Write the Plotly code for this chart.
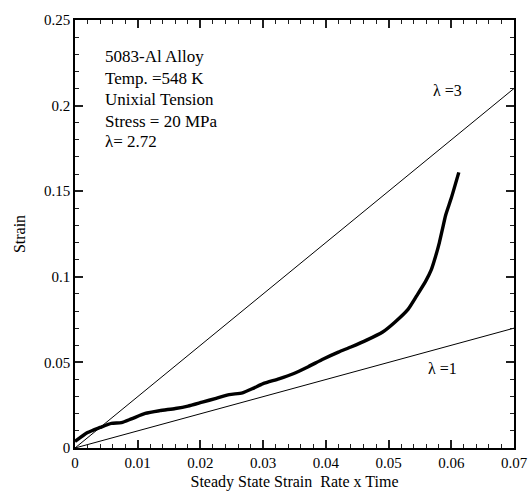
import plotly.graph_objects as go

# Measured creep curve
strain_rate_time = [0.0, 0.0020, 0.0040, 0.0058, 0.0074, 0.0090, 0.0112, 0.0135, 0.0160, 0.0180, 0.0203, 0.0225,
                    0.0246, 0.0267, 0.0285, 0.0300, 0.0325, 0.0348, 0.0372, 0.0396, 0.0420, 0.0440, 0.0465,
                    0.0490, 0.0510, 0.0531, 0.0545, 0.0559, 0.0568, 0.0575, 0.0581, 0.0586, 0.0591, 0.0600, 0.0612]
strain = [0.0038, 0.0090, 0.0120, 0.0144, 0.0148, 0.0170, 0.0202, 0.0218, 0.0231, 0.0245, 0.0268, 0.0290,
          0.0312, 0.0322, 0.0350, 0.0376, 0.0404, 0.0434, 0.0475, 0.0520, 0.0560, 0.0590, 0.0630,
          0.0676, 0.0735, 0.0810, 0.0890, 0.0973, 0.1040, 0.1120, 0.1200, 0.1280, 0.1360, 0.1460, 0.1610]

# Reference lines strain = lambda * (strain rate x time)
ref_x = [0.0, 0.07]
lambda_values = [3, 1]

x_tickvals = [0, 0.01, 0.02, 0.03, 0.04, 0.05, 0.06, 0.07]
x_ticktext = ["0", "0.01", "0.02", "0.03", "0.04", "0.05", "0.06", "0.07"]
y_tickvals = [0, 0.05, 0.1, 0.15, 0.2, 0.25]
y_ticktext = ["0", "0.05", "0.1", "0.15", "0.2", "0.25"]

info_lines = ["5083-Al Alloy", "Temp. =548 K", "Unixial Tension", "Stress = 20 MPa", "λ= 2.72"]
info_y = [0.2285, 0.2160, 0.2035, 0.1910, 0.1790]

serif = "Liberation Serif, Times New Roman, serif"

fig = go.Figure()
for lam in lambda_values:
    fig.add_trace(go.Scatter(x=ref_x, y=[lam * v for v in ref_x], mode="lines",
                             line=dict(color="black", width=1), showlegend=False))
fig.add_trace(go.Scatter(x=strain_rate_time, y=strain, mode="lines",
                         line=dict(color="black", width=3.4, shape="spline", smoothing=0.6),
                         showlegend=False))

for txt, yy in zip(info_lines, info_y):
    fig.add_annotation(x=0.0044, y=yy, text=txt, showarrow=False, xanchor="left", yanchor="middle",
                       font=dict(family=serif, size=17, color="black"))

fig.add_annotation(x=0.0594, y=0.209, text="λ =3", showarrow=False,
                   font=dict(family=serif, size=16, color="black"))
fig.add_annotation(x=0.0586, y=0.0463, text="λ =1", showarrow=False,
                   font=dict(family=serif, size=16, color="black"))

tickfont = dict(family=serif, size=15, color="black")

fig.update_xaxes(range=[0, 0.07], tickvals=x_tickvals, ticktext=x_ticktext,
                 showline=True, linecolor="black", linewidth=1.5, mirror="ticks",
                 ticks="inside", ticklen=8, tickcolor="#202020", tickwidth=1.5, showgrid=False, zeroline=False,
                 tickfont=tickfont, ticklabeloverflow="allow", automargin=False,
                 minor=dict(dtick=0.002, ticks="inside", ticklen=4, tickcolor="#202020", tickwidth=1),
                 title=dict(text="Steady State Strain  Rate x Time", font=dict(family=serif, size=16, color="black"),
                            standoff=6))
fig.update_yaxes(range=[0, 0.25], tickvals=y_tickvals, ticktext=y_ticktext,
                 showline=True, linecolor="black", linewidth=1.5, mirror="ticks",
                 ticks="inside", ticklen=8, tickcolor="#202020", tickwidth=1.5, showgrid=False, zeroline=False,
                 tickfont=tickfont,
                 minor=dict(dtick=0.01, ticks="inside", ticklen=4, tickcolor="#202020", tickwidth=1),
                 title=dict(text="Strain", font=dict(family=serif, size=16, color="black"), standoff=14))

fig.update_layout(width=528, height=503, margin=dict(l=75, r=13, t=16, b=55),
                  plot_bgcolor="white", paper_bgcolor="white", showlegend=False)

fig.write_html("out.html")
